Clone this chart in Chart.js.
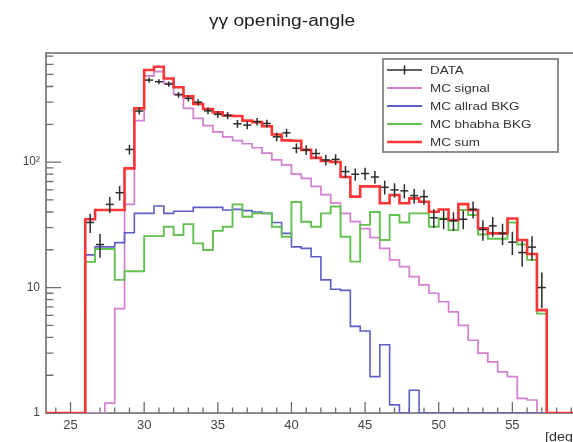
<!DOCTYPE html>
<html>
<head>
<meta charset="utf-8">
<title>γγ opening-angle</title>
<script src="https://cdn.jsdelivr.net/npm/chart.js@4/dist/chart.umd.min.js"></script>
<style>
  html, body { margin: 0; padding: 0; background: #ffffff; overflow: hidden; }
  #wrap { position: relative; width: 600px; height: 442px; }
</style>
</head>
<body>
<div id="wrap"><canvas id="chart" width="600" height="442"></canvas></div>
<script>
// Binning: 2/3-degree bins from 23.33 deg to 60 deg (55 bins)
const BIN_START = 70 / 3;
const BIN_WIDTH = 2 / 3;
const X_MIN = BIN_START;
const X_MAX = 60;
const Y_MIN = 1;
const Y_MAX = 740;

// Bin contents, one entry per bin
const signal = [0, 0, 0, 0,
  0, 0, 1.2, 6.8, 46, 214, 487, 525, 424, 346, 268, 223, 195, 174, 159, 148,
  140, 130, 118, 104, 95, 80, 74, 64, 55, 47, 39, 33.5, 29.5, 25, 20.5, 16.6,
  14.7, 12.2, 10.5, 9.0, 7.7, 6.4, 5.0, 3.8, 3.0, 2.56, 2.13, 1.95, 1.31, 1.27, 0,
  0, 0, 0, 0];

const allradBkg = [0, 0, 0, 0,
  18.2, 21.1, 21.1, 22.8, 27.3, 39, 39, 44.6, 39, 40.5, 40.5, 43.5, 43.5, 43.5, 41.5, 42,
  41, 40, 39, 33, 27, 21.1, 20.5, 17.6, 11.5, 9.7, 9.5, 4.9, 4.5, 1.95, 3.5, 1.16,
  0, 1.52, 0, 0, 0, 0, 0, 0, 0, 0, 0, 0, 0, 0, 0,
  0, 0, 0, 0];

const bhabhaBkg = [0, 0, 0, 0,
  16, 20.3, 20.3, 11.5, 13.5, 13.5, 25.7, 25.7, 30.5, 26.2, 32, 22.5, 19.9, 28.3, 30.5, 46,
  36.7, 39, 39, 30.5, 25.4, 48, 33.4, 30.5, 39, 44.3, 25.4, 16.1, 31.6, 40, 23.9, 37.8,
  33, 39, 39, 30.5, 35.5, 28.7, 41.5, 37.8, 26.5, 24.5, 24.5, 33, 22, 16.6, 6.2,
  0, 0, 0, 0];

const mcSum = [0, 0, 0, 0,
  35, 41.5, 41.5, 41.5, 89, 268, 541, 575, 464, 395, 335, 290, 265, 249, 235, 233,
  214, 208, 193, 166, 149, 148, 125, 108, 102, 100, 76, 53, 64, 64, 47, 54.6,
  47, 51.4, 48.3, 40.2, 41.9, 34.5, 46.2, 41.5, 29.6, 27, 27, 35.5, 23.9, 18.5, 6.6,
  0, 0, 0, 0];

const dataCounts = [0, 0, 0, 0,
  33, 22, 46, 57, 126, 255, 450, 437, 418, 344, 322, 300, 256, 240, 235, 202,
  197, 210, 203, 159, 171, 129, 125, 117, 104, 105, 84, 80, 81, 76, 63, 60,
  59, 54, 53, 36, 35, 34, 35, 42, 29, 31, 27, 23, 19, 21, 10,
  0, 0, 0, 0];

// Axis ticks
const xLabelTicks = [25, 30, 35, 40, 45, 50, 55];
const xTickValues = [24, 25, 26, 27, 28, 29, 30, 31, 32, 33, 34, 35, 36, 37, 38, 39, 40,
  41, 42, 43, 44, 45, 46, 47, 48, 49, 50, 51, 52, 53, 54, 55, 56, 57, 58, 59];
const yDecades = [1, 10, 100];
const yDecadeLabels = ['1', '10', '10²'];

const legendEntries = ['DATA', 'MC signal', 'MC allrad BKG', 'MC bhabha BKG', 'MC sum'];

const COLORS = {
  data: '#2b2b2b',
  signal: '#d47ed2',
  allrad: '#5d5dc6',
  bhabha: '#62c14f',
  sum: '#ff3434',
  frame: '#6e6e6e',
  text: '#333333'
};

// Step outline of a histogram: one point per lower bin edge plus the closing edge.
// Empty bins sit on the bottom of the log axis.
function stepPoints(values) {
  const pts = values.map((v, i) => ({ x: BIN_START + i * BIN_WIDTH, y: Math.max(v, Y_MIN) }));
  pts.push({ x: BIN_START + values.length * BIN_WIDTH, y: Math.max(values[values.length - 1], Y_MIN) });
  return pts;
}

// Data points at bin centres, Poisson errors
function dataPoints(values) {
  const pts = [];
  values.forEach((v, i) => {
    if (v > 0) pts.push({ x: BIN_START + (i + 0.5) * BIN_WIDTH, y: v, err: Math.sqrt(v) });
  });
  return pts;
}

const yTickValues = [];
yDecades.forEach(d => {
  for (let m = 1; m <= 9; m++) {
    if (m * d <= Y_MAX) yTickValues.push(m * d);
  }
});

function stretchedText(ctx, text, x, y, font, align, sx) {
  ctx.save();
  ctx.font = font;
  ctx.textAlign = align;
  ctx.textBaseline = 'alphabetic';
  ctx.translate(x, y);
  ctx.scale(sx, 1);
  ctx.fillText(text, 0, 0);
  ctx.restore();
}

const frameAndDecor = {
  id: 'frameAndDecor',
  beforeDatasetsDraw(chart) {
    const { ctx, chartArea: a, scales } = chart;
    ctx.save();
    ctx.strokeStyle = COLORS.frame;
    ctx.lineWidth = 1.6;
    ctx.strokeRect(a.left, a.top, a.right - a.left, a.bottom - a.top);
    // ticks pointing into the frame
    ctx.lineWidth = 1.3;
    ctx.beginPath();
    xTickValues.forEach(v => {
      const px = scales.x.getPixelForValue(v);
      const len = v % 5 === 0 ? 11 : 5.5;
      ctx.moveTo(px, a.bottom);
      ctx.lineTo(px, a.bottom - len);
    });
    yTickValues.forEach(v => {
      const py = scales.y.getPixelForValue(v);
      const len = yDecades.includes(v) ? 15 : 7.5;
      ctx.moveTo(a.left, py);
      ctx.lineTo(a.left + len, py);
    });
    ctx.stroke();
    ctx.restore();
  },
  afterDatasetsDraw(chart) {
    const { ctx, scales } = chart;
    const meta = chart.getDatasetMeta(0);
    const pts = chart.data.datasets[0].data;
    ctx.save();
    ctx.strokeStyle = COLORS.data;
    ctx.lineWidth = 1.5;
    ctx.beginPath();
    pts.forEach(p => {
      const px = scales.x.getPixelForValue(p.x);
      const lo = Math.max(p.y - p.err, Y_MIN);
      ctx.moveTo(px, scales.y.getPixelForValue(lo));
      ctx.lineTo(px, scales.y.getPixelForValue(p.y + p.err));
    });
    ctx.stroke();
    ctx.restore();
  },
  afterDraw(chart) {
    const { ctx, chartArea: a } = chart;
    ctx.save();
    ctx.fillStyle = '#222222';
    stretchedText(ctx, 'γγ opening-angle', 282, 26, '16px "Liberation Sans", Arial, sans-serif', 'center', 1.2);

    // axis title at the end of the x axis
    ctx.fillStyle = COLORS.text;
    stretchedText(ctx, '[deg]', 545, 441, '13px "Liberation Sans", Arial, sans-serif', 'left', 1.1);

    // legend box
    const box = { l: 383, t: 59, r: 558, b: 152 };
    ctx.fillStyle = '#ffffff';
    ctx.fillRect(box.l, box.t, box.r - box.l, box.b - box.t);
    ctx.strokeStyle = '#727272';
    ctx.lineWidth = 1.6;
    ctx.strokeRect(box.l, box.t, box.r - box.l, box.b - box.t);
    const lineColors = [COLORS.data, COLORS.signal, COLORS.allrad, COLORS.bhabha, COLORS.sum];
    const lineWidths = [1.5, 1.8, 1.8, 1.8, 2.6];
    legendEntries.forEach((label, i) => {
      const y = 70 + i * 18;
      ctx.strokeStyle = lineColors[i];
      ctx.lineWidth = lineWidths[i];
      ctx.beginPath();
      ctx.moveTo(387, y);
      ctx.lineTo(422, y);
      if (i === 0) {
        ctx.moveTo(404.5, y - 4.5);
        ctx.lineTo(404.5, y + 4.5);
      }
      ctx.stroke();
      ctx.fillStyle = COLORS.text;
      stretchedText(ctx, label, 430, y + 4, '11px "Liberation Sans", Arial, sans-serif', 'left', 1.22);
    });
    ctx.restore();
  }
};

Chart.defaults.font.family = '"Liberation Sans", Arial, sans-serif';
Chart.defaults.color = COLORS.text;

function histDataset(label, values, color, width, order) {
  return {
    type: 'line',
    label,
    data: stepPoints(values),
    borderColor: color,
    borderWidth: width,
    stepped: 'before',
    pointRadius: 0,
    fill: false,
    tension: 0,
    order
  };
}

new Chart(document.getElementById('chart'), {
  type: 'scatter',
  data: {
    datasets: [
      {
        type: 'scatter',
        label: 'DATA',
        data: dataPoints(dataCounts),
        pointStyle: 'line',
        pointRadius: 4,
        pointBorderWidth: 1.5,
        pointBorderColor: COLORS.data,
        borderColor: COLORS.data,
        showLine: false,
        order: 0
      },
      histDataset('MC sum', mcSum, COLORS.sum, 2.6, 1),
      histDataset('MC bhabha BKG', bhabhaBkg, COLORS.bhabha, 1.9, 2),
      histDataset('MC allrad BKG', allradBkg, COLORS.allrad, 1.6, 3),
      histDataset('MC signal', signal, COLORS.signal, 1.7, 4)
    ]
  },
  options: {
    responsive: false,
    animation: false,
    devicePixelRatio: 1,
    layout: { padding: { top: 53, right: 14, left: 0, bottom: 0 } },
    plugins: {
      legend: { display: false },
      title: { display: false },
      tooltip: { enabled: false }
    },
    scales: {
      x: {
        type: 'linear',
        min: X_MIN,
        max: X_MAX,
        grid: { display: false, drawTicks: false },
        border: { display: false },
        afterBuildTicks: s => { s.ticks = xTickValues.map(v => ({ value: v })); },
        afterFit: s => { s.height = 29; },
        ticks: {
          autoSkip: false,
          maxRotation: 0,
          padding: 5,
          color: '#444444',
          font: { size: 13 },
          callback: v => (xLabelTicks.includes(v) ? String(v) : '')
        }
      },
      y: {
        type: 'logarithmic',
        min: Y_MIN,
        max: Y_MAX,
        grid: { display: false, drawTicks: false },
        border: { display: false },
        afterBuildTicks: s => { s.ticks = yTickValues.map(v => ({ value: v })); },
        afterFit: s => { s.width = 46; },
        ticks: {
          autoSkip: false,
          padding: 6,
          color: '#444444',
          font: { size: 12 },
          callback: v => {
            const i = yDecades.indexOf(v);
            return i >= 0 ? yDecadeLabels[i] : '';
          }
        }
      }
    }
  },
  plugins: [frameAndDecor]
});
</script>
</body>
</html>
